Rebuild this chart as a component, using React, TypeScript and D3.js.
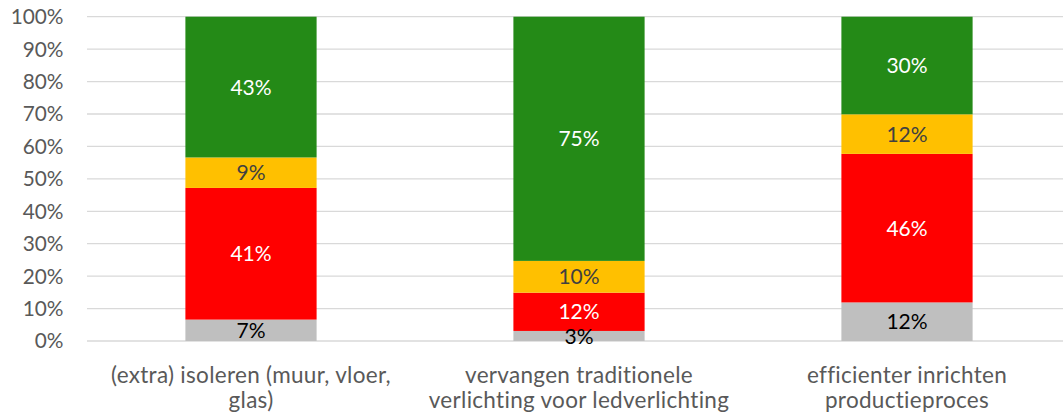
import React from "react";
import * as d3 from "d3";

const categories = [
  ["(extra) isoleren (muur, vloer,", "glas)"],
  ["vervangen traditionele", "verlichting voor ledverlichting"],
  ["efficienter inrichten", "productieproces"],
];
const seriesNames = ["grijs", "rood", "geel", "groen"];
const grayValues = [6.6, 3.1, 11.9];
const redValues = [40.6, 11.8, 45.8];
const yellowValues = [9.4, 9.8, 12.2];
const greenValues = [43.4, 75.3, 30.1];
const labelValues = [
  ["7%", "41%", "9%", "43%"],
  ["3%", "12%", "10%", "75%"],
  ["12%", "46%", "12%", "30%"],
];
const yTicks = [0, 10, 20, 30, 40, 50, 60, 70, 80, 90, 100];

const colors = ["#BFBFBF", "#FF0000", "#FFC000", "#248A17"];
const labelColors = ["#000000", "#FFFFFF", "#404040", "#FFFFFF"];

const W = 1063;
const H = 416;
const FONT = "Lato, 'Open Sans', sans-serif";

export default function App() {
  const x = d3
    .scaleBand<number>()
    .domain([0, 1, 2])
    .range([87, 1071])
    .paddingInner(0.6)
    .paddingOuter(0.3);
  const y = d3.scaleLinear().domain([0, 100]).range([341, 16.7]);

  const rows = categories.map((_, i) => ({
    i,
    grijs: grayValues[i],
    rood: redValues[i],
    geel: yellowValues[i],
    groen: greenValues[i],
  }));
  const stack = d3.stack<any>().keys(seriesNames);
  const stacked = stack(rows);

  return (
    <svg
      width={W}
      height={H}
      style={{ position: "absolute", left: 0, top: 0, background: "#fff" }}
      fontFamily={FONT}
    >
      {yTicks.map((t) => (
        <g key={t}>
          <line
            x1={87}
            x2={W}
            y1={y(t)}
            y2={y(t)}
            stroke="#D9D9D9"
            strokeWidth={1.3}
          />
          <text
            x={63.5}
            y={y(t)}
            dy="0.36em"
            textAnchor="end"
            fontSize={20.8}
            fill="#595959"
          >
            {t}%
          </text>
        </g>
      ))}
      {stacked.map((s, si) =>
        s.map((d, ci) => {
          const x0 = x(ci) as number;
          const bw = x.bandwidth();
          const y0 = y(d[1]);
          const y1 = y(d[0]);
          return (
            <rect
              key={`${si}-${ci}`}
              x={x0}
              y={y0}
              width={bw}
              height={y1 - y0}
              fill={colors[si]}
            />
          );
        })
      )}
      {stacked.map((s, si) =>
        s.map((d, ci) => {
          const x0 = x(ci) as number;
          const bw = x.bandwidth();
          const cy = (y(d[1]) + y(d[0])) / 2;
          return (
            <text
              key={`l-${si}-${ci}`}
              x={x0 + bw / 2}
              y={cy}
              dy="0.36em"
              textAnchor="middle"
              fontSize={21}
              fill={labelColors[si]}
            >
              {labelValues[ci][si]}
            </text>
          );
        })
      )}
      {categories.map((lines, ci) => {
        const cx = (x(ci) as number) + x.bandwidth() / 2;
        return (
          <text
            key={`c-${ci}`}
            x={cx}
            textAnchor="middle"
            fontSize={22.5}
            letterSpacing={0.3}
            fill="#595959"
          >
            {lines.map((ln, li) => (
              <tspan key={li} x={cx} y={375.5 + li * 25} dy="0.35em">
                {ln}
              </tspan>
            ))}
          </text>
        );
      })}
    </svg>
  );
}
